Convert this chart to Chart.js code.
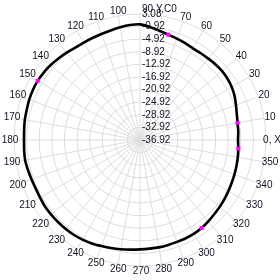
<!DOCTYPE html>
<html>
<head>
<meta charset="utf-8">
<script src="https://cdn.jsdelivr.net/npm/chart.js@4"></script>
<style>
  html, body { margin: 0; padding: 0; background: #fff; }
</style>
</head>
<body>
<canvas id="myChart" width="280" height="280"></canvas>
<script>
// Angles in degrees (counter-clockwise from the X axis), every 5 degrees
const angles = [0, 5, 10, 15, 20, 25, 30, 35, 40, 45, 50, 55, 60, 65, 70, 75, 80, 85,
    90, 95, 100, 105, 110, 115, 120, 125, 130, 135, 140, 145, 150, 155, 160, 165, 170, 175,
    180, 185, 190, 195, 200, 205, 210, 215, 220, 225, 230, 235, 240, 245, 250, 255, 260, 265,
    270, 275, 280, 285, 290, 295, 300, 305, 310, 315, 320, 325, 330, 335, 340, 345, 350, 355];

// Gain (dB)
const gain = [-5.8, -5.6, -5.5, -5.1, -4.5, -3.8, -3.3, -3.0, -2.9, -3.0, -3.2, -3.3, -3.3, -3.0, -2.7, -2.3, -1.7, -0.9,
    -0.2, -0.3, -0.6, -0.9, -1.1, -1.2, -1.2, -1.1, -0.7, -0.3, 0.1, 0.4, 0.6, 0.6, 0.5, 0.3, 0.2, 0.0,
    -0.1, 0.0, 0.1, -0.1, -0.3, -0.4, -0.3, -0.1, -0.1, -0.1, -0.1, -0.2, -0.4, -0.7, -1.1, -1.4, -1.7, -2.0,
    -2.2, -2.3, -2.3, -2.4, -2.5, -2.5, -2.6, -2.8, -3.2, -3.6, -3.9, -4.2, -4.5, -4.8, -5.0, -5.2, -5.4, -5.6];

// Magenta markers
const markerAngles = [10, 75, 150, 305, 355];
const markerGain = [-5.5, -2.3, 0.6, -2.8, -5.6];

// Radial ticks
const tickValues = [3.08, -0.92, -4.92, -8.92, -12.92, -16.92, -20.92, -24.92, -28.92, -32.92, -36.92];

// Angle labels (every 10 degrees); the 80 label is swallowed by the long 90 one
const angleLabels = { 0: '0, X', 90: '90 Y,C0', 80: '' };

// Chart.js goes clockwise, so walk the angles backwards starting from 0
const order = angles.map((a, i) => angles[(angles.length - i) % angles.length]);
const lineData = order.map(a => gain[angles.indexOf(a)]);
const markerData = order.map(a => {
    const k = markerAngles.indexOf(a);
    return k >= 0 ? markerGain[k] : null;
});

// Draw tick and angle labels ourselves, placed with the scale's own geometry
const polarText = {
    id: 'polarText',
    beforeDatasetsDraw(chart) {
        const s = chart.scales.r;
        const ctx = chart.ctx;
        ctx.save();
        ctx.font = '10px "Liberation Sans", Arial, sans-serif';
        ctx.fillStyle = '#111122';
        ctx.textBaseline = 'middle';
        ctx.textAlign = 'left';
        tickValues.forEach(v => {
            const d = s.getDistanceFromCenterForValue(v);
            ctx.fillText(v.toFixed(2), s.xCenter + 2, s.yCenter - d);
        });
        order.forEach((a, i) => {
            if (a % 10) return;
            const text = a in angleLabels ? angleLabels[a] : String(a);
            if (!text) return;
            const p = s.getPointPosition(i, s.drawingArea + 5);
            ctx.textAlign = a === 90 ? 'left' : 'center';
            ctx.fillText(text, a === 90 ? p.x + 2 : p.x + 1, p.y);
        });
        ctx.restore();
    }
};

const ctx = document.getElementById('myChart').getContext('2d');
new Chart(ctx, {
    type: 'radar',
    data: {
        labels: order.map(String),
        datasets: [
            {
                data: lineData,
                order: 1,
                borderColor: '#000',
                borderWidth: 2.6,
                pointRadius: 0,
                fill: false,
                tension: 0.2
            },
            {
                data: markerData,
                order: 0,
                borderColor: 'rgba(0,0,0,0)',
                borderWidth: 0,
                showLine: false,
                pointStyle: 'rect',
                pointRadius: 2.8,
                pointBorderWidth: 0,
                pointBackgroundColor: '#ff00ff',
                fill: false
            }
        ]
    },
    options: {
        responsive: false,
        animation: false,
        events: [],
        layout: { padding: 0 },
        plugins: { legend: { display: false }, tooltip: { enabled: false } },
        scales: {
            r: {
                startAngle: 90,
                min: -36.92,
                max: 3.08,
                afterBuildTicks: s => { s.ticks = tickValues.map(v => ({ value: v })); },
                afterFit: s => { s.xCenter = 140; s.yCenter = 140; s.drawingArea = 126; },
                ticks: { display: false },
                pointLabels: { display: false },
                grid: { circular: true, color: '#dddddd', lineWidth: 1 },
                angleLines: {
                    color: c => (c.index % 2 ? 'rgba(0,0,0,0)' : '#dddddd'),
                    lineWidth: 1
                }
            }
        }
    },
    plugins: [polarText]
});
</script>
</body>
</html>
